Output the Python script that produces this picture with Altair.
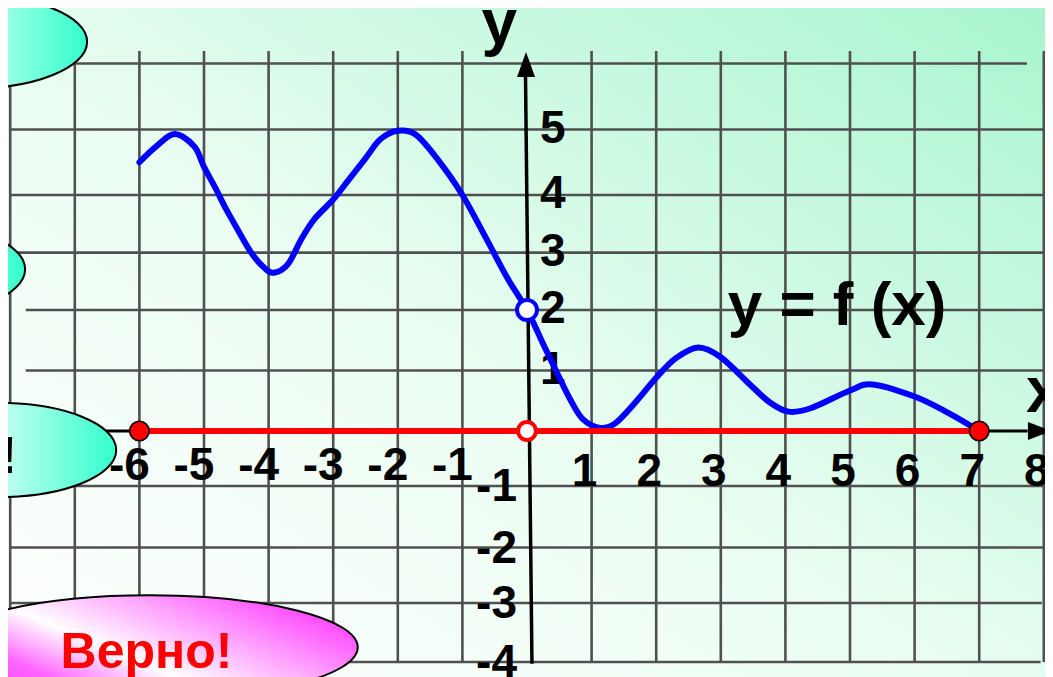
import altair as alt
import pandas as pd

W, H = 1037, 669
FONT = "Liberation Sans"

# ---------------- data ----------------
curve_x = [-6.0, -5.73, -5.45, -5.15, -5.0, -4.82, -4.67, -4.5, -4.27, -4.08, -3.92,
           -3.7, -3.5, -3.3, -3.0, -2.8, -2.5, -2.27, -2.0, -1.72, -1.38, -1.0,
           -0.62, -0.3, 0.0, 0.29, 0.47, 0.67, 0.86, 1.13, 1.37, 1.7, 2.0, 2.3,
           2.65, 3.0, 3.43, 3.75, 4.05, 4.4, 5.0, 5.35, 6.0, 6.52, 7.0]
curve_y = [4.5, 4.75, 4.93, 4.74, 4.43, 4.1, 3.78, 3.44, 3.0, 2.75, 2.65,
           2.8, 3.22, 3.57, 3.92, 4.18, 4.56, 4.85, 4.98, 4.92, 4.54, 4.0,
           3.22, 2.55, 2.0, 1.35, 0.95, 0.52, 0.2, 0.05, 0.13, 0.5, 0.88, 1.2,
           1.38, 1.22, 0.79, 0.48, 0.32, 0.38, 0.67, 0.77, 0.57, 0.3, 0.0]

x_neg_labels = [-7, -6, -5, -4, -3, -2, -1]
x_pos_labels = [1, 2, 3, 4, 5, 6, 7, 8]
y_pos_labels = [1, 2, 3, 4, 5]
y_neg_labels = [-1, -2, -3, -4]

domain_start, domain_end = -6, 7      # red segment on the x axis
open_points_x = [0, 0]
open_points_y = [2, 0]

grid_v_x = [-8, -7, -6, -5, -4, -3, -2, -1, 1, 2, 3, 4, 5, 6, 7, 8]
grid_v_top = [6.0, 6.0] + [6.19] * 14
grid_h_y = [6, 5, 4, 3, 2, 1, -1, -2, -3, -4]
grid_h_x1 = [-7, -8, -8, -8, -7.76, -7.76, -8, -8, -8, -8]
grid_h_x2 = [7.74, 8.1, 8.0, 8.0, 8.0, 8.0, 8.0, 8.0, 7.97, 7.95]

# ---------------- scales ----------------
xs = alt.Scale(domain=[-8, 8], range=[2.2, 1035.8], nice=False, zero=False)
ys = alt.Scale(domain=[-4, -3, -2, -1, 0, 1, 2, 3, 4, 5, 6],
               range=[654, 595, 539.5, 478, 423, 362.5, 302, 244.6, 187, 121.5, 55.5],
               nice=False, zero=False)


def X(f):
    return alt.X(f, type="quantitative", scale=xs, axis=None)


def Y(f):
    return alt.Y(f, type="quantitative", scale=ys, axis=None)


def ellipse_path(r):
    k = 0.5523
    a, b = round(k * r, 4), round(r, 4)
    return (f"M -1 0 C -1 {-a} {-k} {-b} 0 {-b} C {k} {-b} 1 {-a} 1 0 "
            f"C 1 {a} {k} {b} 0 {b} C {-k} {b} -1 {a} -1 0 Z")


def label_df(vals):
    return pd.DataFrame({"v": vals, "z": [0] * len(vals), "t": [str(v) for v in vals]})


# ---------------- background ----------------
bg_grad = alt.LinearGradient(
    gradient="linear",
    stops=[alt.GradientStop(offset=0, color="#ffffff"),
           alt.GradientStop(offset=0.45, color="#ebfdf2"),
           alt.GradientStop(offset=1, color="#a8f5cf")],
    x1=0, y1=1, x2=1, y2=0)
background = alt.Chart(pd.DataFrame({"a": [0]})).mark_rect(fill=bg_grad).encode(
    x=alt.value(0), x2=alt.value(W), y=alt.value(0), y2=alt.value(H))

# ---------------- grid ----------------
vgrid = alt.Chart(pd.DataFrame({"gx": grid_v_x, "top": grid_v_top,
                                "bot": [-4.0] * len(grid_v_x)})).mark_rule(
    color="#505050", strokeWidth=2.6).encode(x=X("gx"), y=Y("bot"), y2="top")
hgrid = alt.Chart(pd.DataFrame({"gy": grid_h_y, "x1": grid_h_x1, "x2": grid_h_x2})).mark_rule(
    color="#505050", strokeWidth=2.6).encode(y=Y("gy"), x=X("x1"), x2="x2")

# ---------------- axes ----------------
xaxis = alt.Chart(pd.DataFrame({"x1": [-8.0], "x2": [7.75], "y": [0]})).mark_rule(
    color="black", strokeWidth=3).encode(x=X("x1"), x2="x2", y=Y("y"))
yaxis = alt.Chart(pd.DataFrame({"x1": [0.077], "x2": [-0.023], "y1": [-4.03], "y2": [5.8]})).mark_rule(
    color="black", strokeWidth=3.5).encode(x=X("x1"), x2="x2", y=Y("y1"), y2="y2")
xarrow = alt.Chart(pd.DataFrame({"x": [7.94], "y": [0]})).mark_point(
    shape="M 1 0 L -1 0.75 L -1 -0.75 Z", size=576, filled=True, color="black",
    opacity=1, strokeWidth=0, clip=True).encode(x=X("x"), y=Y("y"))
yarrow = alt.Chart(pd.DataFrame({"x": [-0.015], "y": [5.985]})).mark_point(
    shape="M 0 -1 L 0.72 1 L -0.72 1 Z", size=625, filled=True, color="black",
    opacity=1, strokeWidth=0).encode(x=X("x"), y=Y("y"))

# ---------------- tick labels ----------------
lab_style = dict(font=FONT, fontWeight="bold", fontSize=46, color="black", clip=True)
xneg = alt.Chart(label_df(x_neg_labels)).mark_text(
    align="center", baseline="alphabetic", dx=-10, dy=49, **lab_style).encode(
    x=X("v"), y=Y("z"), text="t:N")
xpos = alt.Chart(label_df(x_pos_labels)).mark_text(
    align="center", baseline="alphabetic", dx=-7, dy=55, **lab_style).encode(
    x=X("v"), y=Y("z"), text="t:N")
ypos = alt.Chart(label_df(y_pos_labels)).mark_text(
    align="left", baseline="alphabetic", dx=13, dy=13, **lab_style).encode(
    x=X("z"), y=Y("v"), text="t:N")
yneg = alt.Chart(label_df(y_neg_labels)).mark_text(
    align="right", baseline="alphabetic", dx=-10, dy=15, **lab_style).encode(
    x=X("z"), y=Y("v"), text="t:N")

names = alt.Chart(pd.DataFrame({"x": [-0.43, 8.0], "y": [6.30, 0.31], "t": ["y", "x"]})).mark_text(
    align="center", baseline="alphabetic", font=FONT, fontWeight="bold", fontSize=64,
    color="black", clip=True).encode(x=X("x"), y=Y("y"), text="t:N")

formula = alt.Chart(pd.DataFrame({"x": [4.80], "y": [1.75], "t": ["y = f (x)"]})).mark_text(
    align="center", baseline="alphabetic", font=FONT, fontWeight="bold", fontSize=62,
    color="black").encode(x=X("x"), y=Y("y"), text="t:N")

# ---------------- function graph ----------------
curve = alt.Chart(pd.DataFrame({"x": curve_x, "y": curve_y})).mark_line(
    color="#0000ff", strokeWidth=6, interpolate="cardinal", strokeCap="round").encode(
    x=X("x"), y=Y("y"))

red_seg = alt.Chart(pd.DataFrame({"x1": [domain_start], "x2": [domain_end], "y": [0]})).mark_rule(
    color="#ff0000", strokeWidth=6).encode(x=X("x1"), x2="x2", y=Y("y"))
red_dots = alt.Chart(pd.DataFrame({"x": [domain_start, domain_end], "y": [0, 0]})).mark_point(
    shape="circle", size=380, filled=True, fill="#ff0000", stroke="black", strokeWidth=1.6,
    opacity=1).encode(x=X("x"), y=Y("y"))
open_red = alt.Chart(pd.DataFrame({"x": [open_points_x[1]], "y": [open_points_y[1]]})).mark_point(
    shape="circle", size=320, filled=True, fill="white", stroke="#ff0000", strokeWidth=4,
    opacity=1).encode(x=X("x"), y=Y("y"))
open_blue = alt.Chart(pd.DataFrame({"x": [open_points_x[0]], "y": [open_points_y[0]]})).mark_point(
    shape="circle", size=400, filled=True, fill="white", stroke="#0000ff", strokeWidth=4,
    opacity=1).encode(x=X("x"), y=Y("y"))

# ---------------- answer ovals ----------------
cyan_grad = alt.LinearGradient(
    gradient="linear",
    stops=[alt.GradientStop(offset=0, color="#ffffff"),
           alt.GradientStop(offset=0.45, color="#d4fff4"),
           alt.GradientStop(offset=1, color="#33ffcc")],
    x1=0, y1=0.5, x2=1, y2=0.5)
pink_grad = alt.LinearGradient(
    gradient="linear",
    stops=[alt.GradientStop(offset=0, color="#ff33ff"),
           alt.GradientStop(offset=0.2, color="#ff66ff"),
           alt.GradientStop(offset=0.42, color="#ffffff"),
           alt.GradientStop(offset=1, color="#ff33ff")],
    x1=0, y1=0.8, x2=1, y2=0.2)

cyan_ovals = alt.Chart(pd.DataFrame({"x": [-8.62, -9.58, -8.17], "y": [6.33, 2.71, -0.345]})).mark_point(
    shape=ellipse_path(0.402), size=234 ** 2, filled=True, fill=cyan_grad, stroke="black",
    strokeWidth=2, opacity=1, clip=True).encode(x=X("x"), y=Y("y"))
pink_oval = alt.Chart(pd.DataFrame({"x": [-5.84], "y": [-3.75]})).mark_point(
    shape=ellipse_path(0.25), size=416 ** 2, filled=True, fill=pink_grad, stroke="black",
    strokeWidth=2, opacity=1, clip=True).encode(x=X("x"), y=Y("y"))

wrong = alt.Chart(pd.DataFrame({"x": [-7.895], "y": [-0.764], "t": ["Неверно!"]})).mark_text(
    align="right", baseline="alphabetic", font=FONT, fontWeight="bold", fontSize=52,
    color="black", clip=True).encode(x=X("x"), y=Y("y"), text="t:N")
right = alt.Chart(pd.DataFrame({"x": [-5.89], "y": [-4.10], "t": ["Верно!"]})).mark_text(
    align="center", baseline="alphabetic", font=FONT, fontWeight="bold", fontSize=50,
    color="#ff0000", clip=True).encode(x=X("x"), y=Y("y"), text="t:N")

chart = alt.layer(
    background, vgrid, hgrid, xaxis, yaxis, xarrow, yarrow,
    xneg, xpos, ypos, yneg, names, formula,
    curve, red_seg, red_dots, open_red, open_blue,
    cyan_ovals, pink_oval, wrong, right,
).properties(
    width=W, height=H, padding=0,
    autosize=alt.AutoSizeParams(type="none"),
    background="#ffffff",
).configure_view(stroke=None)

chart.save("out.html", embed_options={"renderer": "svg", "actions": False})
